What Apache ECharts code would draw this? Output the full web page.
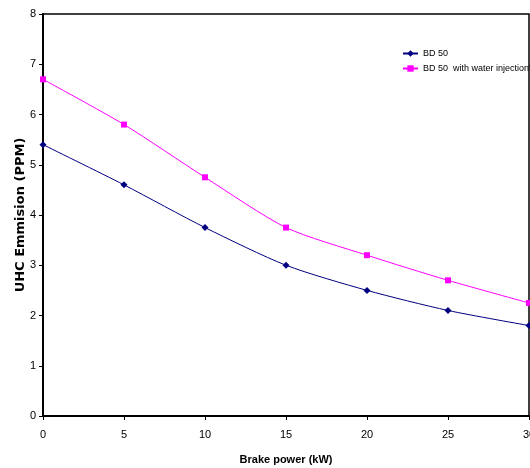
<!DOCTYPE html>
<html>
<head>
<meta charset="utf-8">
<script src="https://cdn.jsdelivr.net/npm/echarts@6/dist/echarts.min.js"></script>
<style>
  html, body { margin: 0; padding: 0; background: #fff; }
  #chart-container { width: 530px; height: 468px; }
</style>
</head>
<body>
<div id="chart-container"></div>
<script>
var brakePower = [0, 5, 10, 15, 20, 25, 30];
var bd50 = [5.4, 4.6, 3.75, 3.0, 2.5, 2.1, 1.8];
var bd50Water = [6.7, 5.8, 4.75, 3.75, 3.2, 2.7, 2.25];
var seriesNames = ["BD 50", "BD 50  with water injection\""];

var dom = document.getElementById("chart-container");
var myChart = echarts.init(dom, null, { renderer: "canvas" });

var font = "'Liberation Sans', Arial, sans-serif";

var option = {
  animation: false,
  backgroundColor: "#fff",
  grid: {
    left: 43,
    right: 1,
    top: 14,
    bottom: 52,
    show: true,
    borderColor: "#000",
    borderWidth: 1.5,
    outerBoundsMode: "none"
  },
  legend: {
    orient: "vertical",
    left: 397,
    top: 43,
    itemWidth: 15,
    itemHeight: 8,
    itemGap: 4,
    textStyle: { fontFamily: font, fontSize: 9, lineHeight: 11, color: "#000" },
    data: seriesNames
  },
  xAxis: {
    type: "value",
    min: 0,
    max: 30,
    interval: 5,
    name: "Brake power (kW)",
    nameLocation: "middle",
    nameGap: 38,
    nameTextStyle: { fontFamily: font, fontSize: 11, fontWeight: "bold", color: "#000" },
    axisLine: { lineStyle: { color: "#000", width: 2 } },
    axisTick: { show: true, length: 4, lineStyle: { color: "#000" } },
    axisLabel: { fontFamily: font, fontSize: 11, color: "#000", margin: 13 },
    splitLine: { show: false }
  },
  yAxis: {
    type: "value",
    min: 0,
    max: 8,
    interval: 1,
    name: "UHC Emmision (PPM)",
    nameLocation: "middle",
    nameGap: 16,
    nameMoveOverlap: false,
    nameTextStyle: { fontFamily: "'DejaVu Sans', sans-serif", fontSize: 13, fontWeight: "bold", color: "#000" },
    axisLine: { show: true, lineStyle: { color: "#000", width: 2 } },
    axisTick: { show: true, length: 4, lineStyle: { color: "#000" } },
    axisLabel: { fontFamily: font, fontSize: 11, color: "#000", margin: 7 },
    splitLine: { show: false }
  },
  series: [
    {
      name: seriesNames[0],
      type: "line",
      smooth: 0.25,
      data: brakePower.map(function (x, i) { return [x, bd50[i]]; }),
      symbol: "diamond",
      symbolSize: 7,
      lineStyle: { color: "#000080", width: 1 },
      itemStyle: { color: "#000080" }
    },
    {
      name: seriesNames[1],
      type: "line",
      smooth: 0.25,
      data: brakePower.map(function (x, i) { return [x, bd50Water[i]]; }),
      symbol: "rect",
      symbolSize: 6,
      lineStyle: { color: "#ff00ff", width: 1 },
      itemStyle: { color: "#ff00ff" }
    }
  ]
};

myChart.setOption(option);
window.addEventListener("resize", myChart.resize);
</script>
</body>
</html>
